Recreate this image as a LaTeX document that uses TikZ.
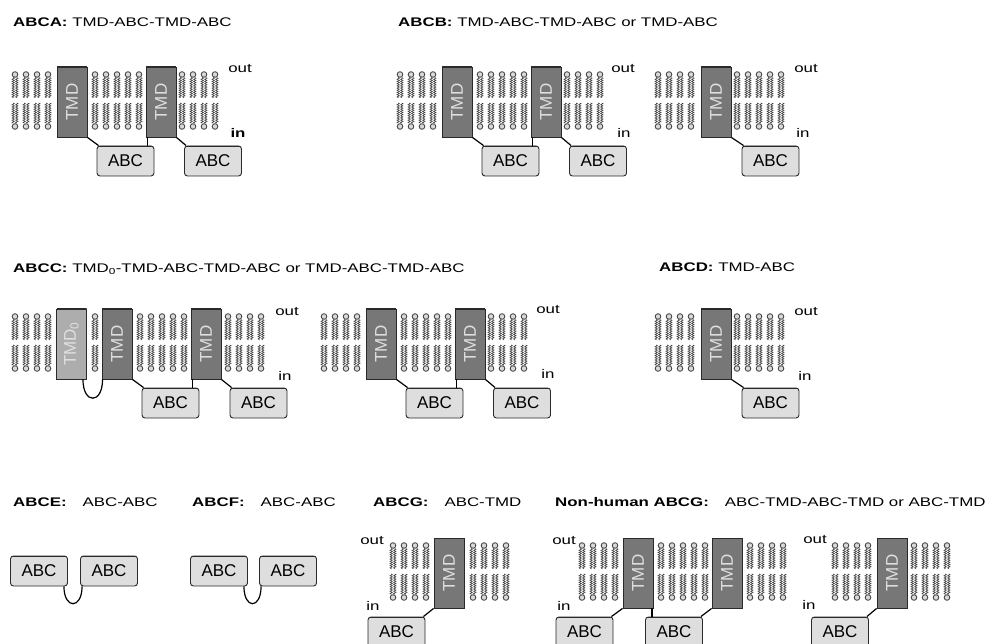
\documentclass[tikz,border=0pt]{standalone}
\usepackage{fontspec}
\setmainfont{Liberation Sans}
\newfontfamily\widefont[FakeStretch=1.35]{Liberation Sans}
\usetikzlibrary{decorations.pathmorphing}

\definecolor{tmdgray}{HTML}{777777}
\definecolor{tmdlight}{HTML}{ADADAD}
\definecolor{abcgray}{HTML}{DEDEDE}
\definecolor{edgegray}{HTML}{2A2A2A}

\tikzset{
  topedge/.style={path picture={\draw[edgegray,line width=2.6pt] (path picture bounding box.north west) -- (path picture bounding box.north east);}},
  tmd/.style={draw=edgegray,line width=0.9pt,fill=tmdgray,topedge,minimum width=30pt,minimum height=70pt,inner sep=0pt,text=white!88!black,font=\fontsize{17}{17}\selectfont},
  tmdzero/.style={tmd,fill=tmdlight},
  abc/.style={draw=edgegray,line width=0.9pt,fill=abcgray,rounded corners=3pt,topedge,minimum width=57pt,minimum height=30pt,inner sep=0pt,font=\fontsize{17}{17}\selectfont},
  link/.style={draw=black,line width=1.2pt},
  side/.style={inner sep=0pt,font=\widefont\fontsize{12.5}{14}\selectfont},
  title/.style={anchor=base west,inner sep=0pt,font=\widefont\fontsize{12.5}{14}\selectfont},
  lipidhead/.style={draw=black!70,fill=white!85!black,line width=0.9pt},
  lipidtail/.style={draw=black!75,line width=0.6pt,decorate,decoration={snake,segment length=2.2pt,amplitude=1.2pt}},
}

% #1 = x of first column, #2 = number of columns, #3 = top of membrane
\newcommand{\lipidrow}[3]{%
  \foreach \k in {1,...,#2}{
    \pgfmathsetmacro{\lx}{#1+11*(\k-1)}
    \foreach \dx in {-1.8,1.8}{
      \draw[lipidtail] ({\lx+\dx},{#3+10.5}) -- ({\lx+\dx},{#3+31});
      \draw[lipidtail] ({\lx+\dx},{#3+36}) -- ({\lx+\dx},{#3+56.5});
    }
    \draw[lipidhead] ({\lx},{#3+7.5}) circle (2.8pt);
    \draw[lipidhead] ({\lx},{#3+59.5}) circle (2.8pt);
  }%
}

\begin{document}
\begin{tikzpicture}[x=1pt,y=-1pt]
\useasboundingbox[fill=white] (0,0) rectangle (996,644);

% ABCA
\node[title] (ta) at (13,27) {\textbf{ABCA:} TMD-ABC-TMD-ABC};
\lipidrow{15}{4}{67}
\lipidrow{95}{5}{67}
\lipidrow{182}{4}{67}
\node[tmd] (a1) at (72,102) {\rotatebox{90}{TMD}};
\node[tmd] (a2) at (161,102) {\rotatebox{90}{TMD}};
\node[abc] (a3) at (125.5,161) {ABC};
\node[abc] (a4) at (213,161) {ABC};
\draw[link] (a1.south east) -- ([xshift=2pt]a3.north west);
\draw[link] ([xshift=2pt]a2.south west) -- ([xshift=2pt]a2.south west |- a3.north);
\draw[link] (a2.south east) -- ([xshift=2pt]a4.north west);
\node[side] (a5) at (240,69) {out};
\node[side] (a6) at (238,133) {\textbf{in}};

% ABCB
\node[title] (tb) at (398,27) {\textbf{ABCB:} TMD-ABC-TMD-ABC or TMD-ABC};
\lipidrow{400}{4}{67}
\lipidrow{480}{5}{67}
\lipidrow{567}{4}{67}
\node[tmd] (b1) at (457,102) {\rotatebox{90}{TMD}};
\node[tmd] (b2) at (546,102) {\rotatebox{90}{TMD}};
\node[abc] (b3) at (510.5,161) {ABC};
\node[abc] (b4) at (598,161) {ABC};
\draw[link] (b1.south east) -- ([xshift=2pt]b3.north west);
\draw[link] ([xshift=2pt]b2.south west) -- ([xshift=2pt]b2.south west |- b3.north);
\draw[link] (b2.south east) -- ([xshift=2pt]b4.north west);
\node[side] (b5) at (623,69) {out};
\node[side] (b6) at (624,133) {in};
\lipidrow{658}{4}{67}
\lipidrow{737}{5}{67}
\node[tmd] (b7) at (716,102) {\rotatebox{90}{TMD}};
\node[abc] (b8) at (770.5,161) {ABC};
\draw[link] (b7.south east) -- ([xshift=2pt]b8.north west);
\node[side] (b9) at (806,69) {out};
\node[side] (b10) at (803,133) {in};

% ABCC
\node[title] (tc) at (13,273) {\textbf{ABCC:} TMD\textsubscript{0}-TMD-ABC-TMD-ABC or TMD-ABC-TMD-ABC};
\lipidrow{15}{4}{309}
\lipidrow{95}{1}{309}
\lipidrow{140}{5}{309}
\lipidrow{228}{4}{309}
\node[tmdzero] (c0) at (71.5,344) {\rotatebox{90}{TMD\textsubscript{0}}};
\node[tmd] (c1) at (117,344) {\rotatebox{90}{TMD}};
\node[tmd] (c2) at (206,344) {\rotatebox{90}{TMD}};
\node[abc] (c3) at (170.5,403) {ABC};
\node[abc] (c4) at (258.5,403) {ABC};
\draw[link] ([xshift=-4pt]c0.south east) .. controls +(0,25) and +(0,25) .. ([xshift=1pt]c1.south west);
\draw[link] (c1.south east) -- ([xshift=2pt]c3.north west);
\draw[link] ([xshift=2pt]c2.south west) -- ([xshift=2pt]c2.south west |- c3.north);
\draw[link] (c2.south east) -- ([xshift=2pt]c4.north west);
\node[side] (c5) at (287,312) {out};
\node[side] (c6) at (285,376) {in};
\lipidrow{324}{4}{309}
\lipidrow{404}{5}{309}
\lipidrow{491}{4}{309}
\node[tmd] (c7) at (381,344) {\rotatebox{90}{TMD}};
\node[tmd] (c8) at (470,344) {\rotatebox{90}{TMD}};
\node[abc] (c9) at (434.5,403) {ABC};
\node[abc] (c10) at (522,403) {ABC};
\draw[link] (c7.south east) -- ([xshift=2pt]c9.north west);
\draw[link] ([xshift=2pt]c8.south west) -- ([xshift=2pt]c8.south west |- c9.north);
\draw[link] (c8.south east) -- ([xshift=2pt]c10.north west);
\node[side] (c11) at (548,310) {out};
\node[side] (c12) at (548,374) {in};

% ABCD
\node[title] (td) at (659,272) {\textbf{ABCD:} TMD-ABC};
\lipidrow{658}{4}{309}
\lipidrow{737}{5}{309}
\node[tmd] (d1) at (716,344) {\rotatebox{90}{TMD}};
\node[abc] (d2) at (770.5,403) {ABC};
\draw[link] (d1.south east) -- ([xshift=2pt]d2.north west);
\node[side] (d3) at (806,312) {out};
\node[side] (d4) at (805,376) {in};

% ABCE and ABCF
\node[title] (te) at (13,506) {\textbf{ABCE:}\hspace{16pt}ABC-ABC};
\node[abc] (e1) at (39,571) {ABC};
\node[abc] (e2) at (109,571) {ABC};
\draw[link] ([xshift=-4pt]e1.south east) .. controls +(0,23) and +(0,23) .. ([xshift=2pt]e2.south west);
\node[title] (tf) at (192,506) {\textbf{ABCF:}\hspace{16pt}ABC-ABC};
\node[abc] (f1) at (219,571) {ABC};
\node[abc] (f2) at (288,571) {ABC};
\draw[link] ([xshift=-4pt]f1.south east) .. controls +(0,23) and +(0,23) .. ([xshift=2pt]f2.south west);

% ABCG
\node[title] (tg) at (373,506) {\textbf{ABCG:}\hspace{16pt}ABC-TMD};
\lipidrow{393}{4}{538}
\lipidrow{473}{4}{538}
\node[tmd] (g1) at (449,573) {\rotatebox{90}{TMD}};
\node[abc] (g2) at (396.5,632) {ABC};
\draw[link] (g1.south west) -- ([xshift=-2pt]g2.north east);
\node[side] (g3) at (372,541) {out};
\node[side] (g4) at (373,606) {in};

% non-human ABCG
\node[title] (th) at (555,506) {\textbf{Non-human ABCG:}\hspace{16pt}ABC-TMD-ABC-TMD or ABC-TMD};
\lipidrow{582}{4}{538}
\lipidrow{661}{5}{538}
\lipidrow{750}{4}{538}
\node[tmd] (n1) at (638,573) {\rotatebox{90}{TMD}};
\node[tmd] (n2) at (727,573) {\rotatebox{90}{TMD}};
\node[abc] (n3) at (584.5,632) {ABC};
\node[abc] (n4) at (674,632) {ABC};
\draw[link] (n1.south west) -- ([xshift=-2pt]n3.north east);
\draw[link] ([xshift=-1.5pt]n1.south east) -- ([xshift=-1.5pt]n1.south east |- n4.north);
\draw[link] (n2.south west) -- ([xshift=-2pt]n4.north east);
\node[side] (n5) at (564,541) {out};
\node[side] (n6) at (564,606) {in};
\lipidrow{835}{4}{538}
\lipidrow{914}{4}{538}
\node[tmd] (n7) at (892,573) {\rotatebox{90}{TMD}};
\node[abc] (n8) at (840,632) {ABC};
\draw[link] (n7.south west) -- ([xshift=-2pt]n8.north east);
\node[side] (n9) at (815,540) {out};
\node[side] (n10) at (809,605) {in};
\end{tikzpicture}
\end{document}
